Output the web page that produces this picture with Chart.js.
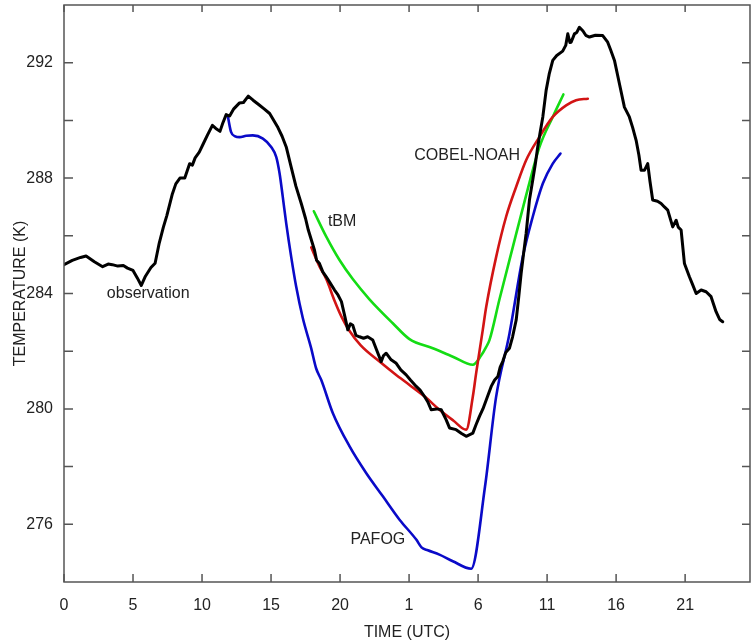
<!DOCTYPE html>
<html>
<head>
<meta charset="utf-8">
<script src="https://cdn.jsdelivr.net/npm/chart.js@4.4.1/dist/chart.umd.min.js"></script>
<style>
  html, body { margin: 0; padding: 0; background: #fff; }
  #wrap { width: 751px; height: 644px; }
</style>
</head>
<body>
<div id="wrap"><canvas id="tempChart" width="751" height="644"></canvas></div>
<script>
// hours since 00 UTC of day 1, temperature in K
const obsTime = [0, 0.6, 1.2, 1.6, 2.2, 2.8, 3.2, 3.5, 3.9, 4.3, 4.6, 5.0, 5.3, 5.6, 5.9, 6.3, 6.6, 6.9, 7.2, 7.45,
  7.85, 8.1, 8.4, 8.75, 9.1, 9.3, 9.5, 9.8, 10.1, 10.4, 10.75, 11.0, 11.3, 11.5, 11.75, 12.0, 12.3, 12.7, 13.0, 13.35,
  13.7, 14.1, 14.5, 14.9, 15.2, 15.5, 15.8, 16.1, 16.45, 16.8, 17.2, 17.5, 17.7, 18.15, 18.3, 18.5, 18.75, 19.0, 19.3, 19.6,
  19.85, 20.1, 20.35, 20.56, 20.75, 20.92, 21.15, 21.41, 21.7, 22.0, 22.37, 22.6, 22.98, 23.15, 23.34, 23.7, 24.07, 24.4, 24.79, 25.1,
  25.52, 25.8, 26.12, 26.35, 26.6, 27.0, 27.33, 27.69, 27.93, 28.41, 28.8, 29.14, 29.62, 29.85, 30.1, 30.35, 30.59, 30.95, 31.2, 31.43,
  31.6, 31.79, 32.0, 32.27, 32.5, 32.76, 32.95, 33.12, 33.3, 33.48, 33.72, 33.96, 34.15, 34.32, 34.5, 34.69, 34.93, 35.15, 35.41, 35.7,
  36.13, 36.35, 36.5, 36.65, 36.74, 36.98, 37.15, 37.34, 37.6, 37.8, 38.07, 38.5, 39.03, 39.39, 39.6, 39.88, 40.24, 40.6, 40.96, 41.2,
  41.45, 41.65, 41.81, 42.05, 42.29, 42.45, 42.65, 43.0, 43.26, 43.5, 43.74, 44.1, 44.35, 44.5, 44.71, 44.95, 45.31, 45.55, 45.8, 46.16,
  46.52, 46.88, 47.24, 47.5, 47.72];
const obsTemp = [285.0, 285.15, 285.25, 285.3, 285.1, 284.93, 285.02, 285.0, 284.95, 284.97, 284.88, 284.8, 284.55, 284.28, 284.6, 284.9, 285.05, 285.75, 286.3, 286.7,
  287.45, 287.8, 288.0, 288.0, 288.5, 288.45, 288.7, 288.9, 289.2, 289.5, 289.83, 289.72, 289.62, 289.9, 290.2, 290.15, 290.4, 290.6, 290.62, 290.84,
  290.7, 290.55, 290.4, 290.24, 290.0, 289.75, 289.45, 289.08, 288.4, 287.72, 287.1, 286.6, 286.2, 285.5, 285.15, 285.05, 284.75, 284.58, 284.35, 284.12,
  283.95, 283.72, 283.2, 282.74, 282.95, 282.9, 282.55, 282.5, 282.45, 282.5, 282.39, 282.1, 281.64, 281.85, 281.93, 281.7, 281.58, 281.35, 281.18, 281.0,
  280.78, 280.65, 280.43, 280.25, 279.97, 280.0, 279.97, 279.62, 279.34, 279.28, 279.15, 279.05, 279.16, 279.45, 279.74, 280.0, 280.31, 280.78, 281.0, 281.12,
  281.45, 281.65, 281.95, 282.1, 282.5, 283.08, 283.9, 284.7, 285.4, 286.08, 287.24, 287.93, 288.5, 289.08, 289.6, 290.12, 291.04, 291.6, 292.08, 292.25,
  292.4, 292.6, 293.0, 292.7, 292.71, 293.0, 293.05, 293.23, 293.1, 292.95, 292.89, 292.95, 292.94, 292.71, 292.45, 292.08, 291.27, 290.46, 290.12, 289.75,
  289.31, 288.8, 288.27, 288.27, 288.5, 287.9, 287.24, 287.2, 287.12, 287.0, 286.89, 286.31, 286.54, 286.3, 286.2, 285.04, 284.58, 284.3, 284.0, 284.12,
  284.06, 283.89, 283.37, 283.1, 283.02];

const pafogTime = [11.87, 12.1, 12.4, 12.72, 13.2, 13.68, 14.41, 15.01, 15.38, 15.62, 15.85, 16.1, 16.46, 16.82, 17.3, 17.91, 18.27, 18.64,
  19.48, 20.69, 21.89, 23.1, 24.31, 25.52, 25.9, 26.36, 27.2, 28.17, 29.5, 30.5, 31.3, 32.27, 33.24, 33.96, 34.69, 35.41, 35.97];
const pafogTemp = [290.14, 289.6, 289.45, 289.42, 289.47, 289.48, 289.37, 289.08, 288.73, 288.16, 287.35, 286.43, 285.27, 284.24, 283.15, 282.1, 281.4, 281.0,
  279.85, 278.7, 277.78, 276.97, 276.16, 275.47, 275.2, 275.1, 274.95, 274.72, 274.46, 277.3, 280.4, 282.6, 285.27, 286.66, 287.81, 288.5, 288.85];

const cobelTime = [17.91, 18.5, 19.0, 19.6, 20.1, 20.69, 21.5, 22.86, 24.0, 25.03, 26.2, 27.2, 28.2, 29.14, 29.62, 29.86, 30.34, 30.59,
  31.31, 32.03, 32.76, 33.48, 34.45, 35.41, 36.38, 37.1, 37.95];
const cobelTemp = [285.6, 284.95, 284.5, 283.75, 283.2, 282.7, 282.2, 281.64, 281.2, 280.83, 280.4, 279.97, 279.6, 279.28, 280.43, 281.24, 282.74, 283.54,
  285.27, 286.66, 287.7, 288.62, 289.43, 290.12, 290.52, 290.7, 290.75];

const tbmTime = [18.1, 19.0, 19.96, 20.92, 22.13, 23.82, 25.03, 26.72, 28.17, 29.62, 30.22, 30.59, 30.83, 31.55, 32.51, 33.48, 34.45, 35.41, 36.18];
const tbmTemp = [286.85, 285.97, 285.16, 284.5, 283.8, 282.97, 282.42, 282.1, 281.81, 281.53, 281.85, 282.15, 282.39, 283.8, 285.6, 287.4, 289.08, 290.12, 290.9];

const seriesNames = ['observation', 'PAFOG', 'COBEL-NOAH', 'tBM'];
const seriesColors = ['#000000', '#0a0ac8', '#d21414', '#14dc14'];

// where each series name is written, in data units
const labelSpots = [
  { text: 'observation', x: 6.1, y: 284.0 },
  { text: 'tBM', x: 20.15, y: 286.48 },
  { text: 'COBEL-NOAH', x: 29.21, y: 288.79 },
  { text: 'PAFOG', x: 22.74, y: 275.47 }
];

const toPoints = (xs, ys) => xs.map((x, i) => ({ x: x, y: ys[i] }));
const fontFamily = '"Liberation Sans", Arial, Helvetica, sans-serif';
const axisFont = { family: fontFamily, size: 16 };
// drop the ticks that sit on the frame itself
const innerTicksOnly = s => { s.ticks = s.ticks.filter(t => t.value > s.min && t.value < s.max); };

const frameTicks = {
  id: 'frameTicks',
  afterDatasetsDraw(chart) {
    const { ctx, chartArea: a, scales } = chart;
    const x = scales.x, y = scales.y;
    ctx.save();
    ctx.strokeStyle = '#555';
    ctx.lineWidth = 1.5;
    ctx.strokeRect(a.left, a.top, a.right - a.left, a.bottom - a.top);
    ctx.beginPath();
    x.ticks.forEach(t => {
      const px = x.getPixelForValue(t.value);
      ctx.moveTo(px, a.bottom); ctx.lineTo(px, a.bottom - 8);
      ctx.moveTo(px, a.top); ctx.lineTo(px, a.top + 7);
    });
    y.ticks.forEach(t => {
      const py = y.getPixelForValue(t.value);
      ctx.moveTo(a.left, py); ctx.lineTo(a.left + 9, py);
      ctx.moveTo(a.right, py); ctx.lineTo(a.right - 8, py);
    });
    ctx.stroke();
    ctx.restore();
  }
};

const seriesLabels = {
  id: 'seriesLabels',
  afterDatasetsDraw(chart) {
    const { ctx, scales } = chart;
    ctx.save();
    ctx.fillStyle = '#222';
    ctx.font = '16px ' + fontFamily;
    ctx.textAlign = 'center';
    ctx.textBaseline = 'middle';
    labelSpots.forEach(l => {
      ctx.fillText(l.text, scales.x.getPixelForValue(l.x), scales.y.getPixelForValue(l.y));
    });
    ctx.restore();
  }
};

new Chart(document.getElementById('tempChart'), {
  type: 'scatter',
  data: {
    datasets: [
      { label: seriesNames[0], data: toPoints(obsTime, obsTemp), borderColor: seriesColors[0], borderWidth: 3, tension: 0 },
      { label: seriesNames[1], data: toPoints(pafogTime, pafogTemp), borderColor: seriesColors[1], borderWidth: 2.6, tension: 0.3, cubicInterpolationMode: 'monotone' },
      { label: seriesNames[2], data: toPoints(cobelTime, cobelTemp), borderColor: seriesColors[2], borderWidth: 2.6, tension: 0.3, cubicInterpolationMode: 'monotone' },
      { label: seriesNames[3], data: toPoints(tbmTime, tbmTemp), borderColor: seriesColors[3], borderWidth: 2.6, tension: 0.3, cubicInterpolationMode: 'monotone' }
    ].map(d => Object.assign(d, { showLine: true, pointRadius: 0, borderJoinStyle: 'round', borderCapStyle: 'round' }))
  },
  options: {
    responsive: false,
    animation: false,
    layout: { padding: { top: 5, right: 1, left: 0, bottom: 0 } },
    plugins: { legend: { display: false }, tooltip: { enabled: false } },
    scales: {
      x: {
        type: 'linear',
        min: 0,
        max: 49.7,
        afterBuildTicks: s => { s.ticks = s.ticks.filter(t => t.value < s.max); },
        afterFit: s => { s.height = 62; s.paddingLeft = 0; s.paddingRight = 0; },
        grid: { display: false },
        border: { display: false },
        ticks: {
          stepSize: 5,
          includeBounds: false,
          autoSkip: false,
          maxRotation: 0,
          padding: 6,
          color: '#222',
          font: axisFont,
          callback: v => v % 24
        },
        title: { display: true, text: 'TIME (UTC)', color: '#222', font: axisFont, padding: { top: 0, bottom: 2 } }
      },
      y: {
        type: 'linear',
        min: 274,
        max: 294,
        afterBuildTicks: innerTicksOnly,
        afterFit: s => { s.width = 64; s.paddingTop = 0; s.paddingBottom = 0; },
        grid: { display: false },
        border: { display: false },
        ticks: {
          stepSize: 2,
          includeBounds: false,
          autoSkip: false,
          padding: 3,
          color: '#222',
          font: axisFont,
          callback: v => (v % 4 === 0 ? v : '')
        },
        title: { display: true, text: 'TEMPERATURE (K)', color: '#222', font: axisFont, padding: { top: 11, bottom: 0 } }
      }
    }
  },
  plugins: [frameTicks, seriesLabels]
});
</script>
</body>
</html>
